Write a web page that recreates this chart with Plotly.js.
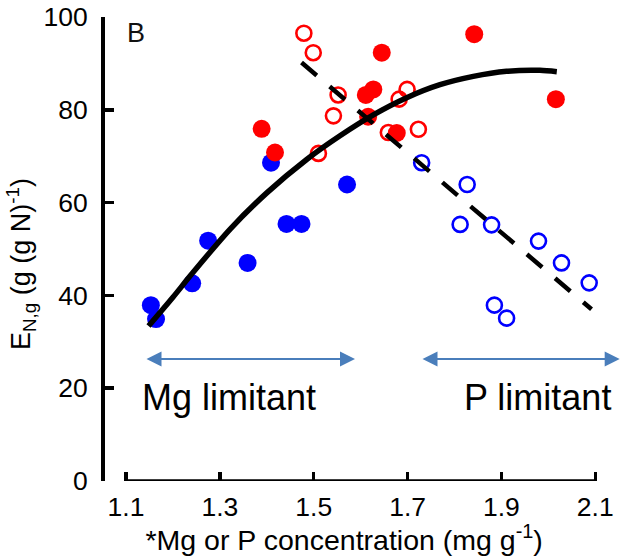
<!DOCTYPE html>
<html>
<head>
<meta charset="utf-8">
<script src="https://cdn.plot.ly/plotly-3.0.1.min.js"></script>
<style>html,body{margin:0;padding:0;background:#fff;}#chart{width:621px;height:556px;}</style>
</head>
<body>
<div id="chart"></div>
<script>
// Mg-limited (filled circles)
var blueFilledX = [1.153, 1.164, 1.241, 1.275, 1.359, 1.409, 1.442, 1.474, 1.571];
var blueFilledY = [37.9, 34.9, 42.6, 51.8, 47.0, 68.6, 55.4, 55.4, 63.9];
var redFilledX = [1.389, 1.4175, 1.645, 1.627, 1.611, 1.616, 1.677, 1.842, 2.016];
var redFilledY = [75.9, 70.8, 92.3, 84.4, 83.2, 78.5, 75.0, 96.3, 82.3];
// P-limited (open circles)
var redOpenX = [1.479, 1.499, 1.552, 1.542, 1.510, 1.699, 1.682, 1.659, 1.723];
var redOpenY = [96.5, 92.3, 83.2, 78.7, 70.6, 84.4, 82.3, 75.1, 75.8];
var blueOpenX = [1.730, 1.827, 1.812, 1.879, 1.979, 2.028, 2.087, 1.885, 1.911];
var blueOpenY = [68.6, 63.9, 55.3, 55.2, 51.7, 47.0, 42.7, 37.9, 35.1];
// Fitted curves
var curveX = [1.148, 1.200, 1.240, 1.322, 1.400, 1.485, 1.556, 1.627, 1.698, 1.769, 1.840, 1.911, 1.982, 2.018];
var curveY = [33.4, 39.6, 44.6, 54.3, 62.1, 69.3, 74.4, 78.9, 82.6, 85.4, 87.2, 88.3, 88.5, 88.2];
var dashX = [1.474, 2.092];
var dashY = [90.2, 37.0];
// Axis ticks
var xTicks = [1.1, 1.3, 1.5, 1.7, 1.9, 2.1];
var xTickText = ['1.1', '1.3', '1.5', '1.7', '1.9', '2.1'];
var yTicks = [0, 20, 40, 60, 80, 100];
// Region arrows and labels
var mgArrowX = [1.1405, 1.588];
var pArrowX = [1.7286, 2.152];
var arrowY = 26.3;
var regionLabels = ['Mg limitant', 'P limitant'];
var regionLabelX = [1.319, 1.977];
var regionLabelY = 18;

var FONT = 'Liberation Sans, Arial, sans-serif';
var RED = '#ff0000', BLUE = '#0000ff', ARROW = '#4a7ebb';

var traces = [
  {x: blueFilledX, y: blueFilledY, mode: 'markers', type: 'scatter', cliponaxis: false,
   marker: {symbol: 'circle', size: 18, color: BLUE, line: {width: 0}}},
  {x: redFilledX, y: redFilledY, mode: 'markers', type: 'scatter', cliponaxis: false,
   marker: {symbol: 'circle', size: 18, color: RED, line: {width: 0}}},
  {x: redOpenX, y: redOpenY, mode: 'markers', type: 'scatter', cliponaxis: false,
   marker: {symbol: 'circle-open', size: 15, color: RED, line: {width: 2.6, color: RED}}},
  {x: blueOpenX, y: blueOpenY, mode: 'markers', type: 'scatter', cliponaxis: false,
   marker: {symbol: 'circle-open', size: 15, color: BLUE, line: {width: 2.6, color: BLUE}}},
  {x: curveX, y: curveY, mode: 'lines', type: 'scatter', cliponaxis: false,
   line: {color: '#000', width: 5.5, shape: 'spline', smoothing: 0.8}},
  {x: dashX, y: dashY, mode: 'lines', type: 'scatter', cliponaxis: false,
   line: {color: '#000', width: 4.5, dash: '20px,17px'}}
];

function arrowAnn(a, b) {
  return {x: b, y: arrowY, ax: a, ay: arrowY, xref: 'x', yref: 'y', axref: 'x', ayref: 'y',
    text: '', showarrow: true, arrowside: 'end+start', arrowhead: 2, startarrowhead: 2,
    arrowsize: 1.5, startarrowsize: 1.5, arrowwidth: 2, arrowcolor: ARROW, standoff: 0, startstandoff: 0};
}

var annotations = [
  arrowAnn(mgArrowX[0], mgArrowX[1]),
  arrowAnn(pArrowX[0], pArrowX[1]),
  {x: regionLabelX[0], y: regionLabelY, xref: 'x', yref: 'y', text: regionLabels[0], showarrow: false,
   xanchor: 'center', yanchor: 'middle', font: {family: FONT, size: 36, color: '#000'}},
  {x: regionLabelX[1], y: regionLabelY, xref: 'x', yref: 'y', text: regionLabels[1], showarrow: false,
   xanchor: 'center', yanchor: 'middle', font: {family: FONT, size: 36, color: '#000'}},
  {x: 1.1213, y: 96.55, xref: 'x', yref: 'y', text: 'B', showarrow: false,
   xanchor: 'center', yanchor: 'middle', font: {family: FONT, size: 27, color: '#111'}}
];

var layout = {
  width: 621, height: 556,
  margin: {l: 105, r: 6, t: 17, b: 75, pad: 0},
  paper_bgcolor: '#fff', plot_bgcolor: '#fff',
  showlegend: false,
  font: {family: FONT, color: '#000'},
  xaxis: {
    range: [1.05525, 2.142], showgrid: false, zeroline: false, showline: false,
    tickmode: 'array', tickvals: xTicks, ticktext: xTickText,
    ticks: 'inside', ticklen: 9, tickwidth: 3.5, tickcolor: '#000',
    tickfont: {family: FONT, size: 26.5, color: '#000'}, ticklabelstandoff: 7,
    title: {text: '*Mg or P concentration (mg g<sup>-1</sup>)&nbsp;&nbsp;&nbsp;&nbsp;', standoff: 4,
            font: {family: FONT, size: 28.5, color: '#000'}},
    fixedrange: true
  },
  yaxis: {
    range: [0, 100], showgrid: false, zeroline: false, showline: true, linewidth: 4, linecolor: '#000',
    tickmode: 'array', tickvals: yTicks,
    ticks: 'inside', ticklen: 9, tickwidth: 3.5, tickcolor: '#000',
    tickfont: {family: FONT, size: 26.5, color: '#000'}, ticklabelstandoff: 8,
    title: {text: 'E<sub>N,g</sub> (g (g N)<sup>-1</sup>)&nbsp;&nbsp;&nbsp;&nbsp;', standoff: 6,
            font: {family: FONT, size: 27, color: '#000'}},
    fixedrange: true
  },
  shapes: [
    {type: 'line', xref: 'x', yref: 'y', x0: xTicks[0], x1: xTicks[xTicks.length - 1], y0: 0, y1: 0,
     line: {color: '#000', width: 3.5}, layer: 'above'}
  ],
  annotations: annotations
};

Plotly.newPlot('chart', traces, layout, {displayModeBar: false, staticPlot: true});
</script>
</body>
</html>
